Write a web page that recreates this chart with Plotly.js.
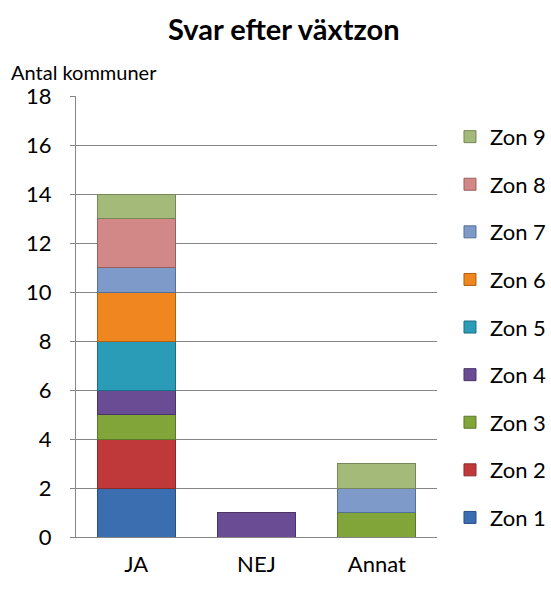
<!DOCTYPE html>
<html>
<head>
<meta charset="utf-8">
<script src="https://cdn.plot.ly/plotly-3.0.1.min.js"></script>
<style>html,body{margin:0;padding:0;background:#fff;}#chart{width:551px;height:590px;}</style>
</head>
<body>
<div id="chart"></div>
<script>
const categories = ['JA', 'NEJ', 'Annat'];
const seriesNames = ['Zon 1', 'Zon 2', 'Zon 3', 'Zon 4', 'Zon 5', 'Zon 6', 'Zon 7', 'Zon 8', 'Zon 9'];
const zon1 = [2, 0, 0];
const zon2 = [2, 0, 0];
const zon3 = [1, 0, 1];
const zon4 = [1, 1, 0];
const zon5 = [2, 0, 0];
const zon6 = [2, 0, 0];
const zon7 = [1, 0, 1];
const zon8 = [2, 0, 0];
const zon9 = [1, 0, 1];
const seriesValues = [zon1, zon2, zon3, zon4, zon5, zon6, zon7, zon8, zon9];
const yTicks = [0, 2, 4, 6, 8, 10, 12, 14, 16, 18];

const colors = ['#3b6db1', '#c0393a', '#82a539', '#6a4c94', '#2b9cb7', '#f0861f', '#7d9ac8', '#d28886', '#a3ba79'];
const edges = ['#2a4f82', '#8c2828', '#5c7828', '#4a3468', '#1c6f83', '#b06010', '#566f96', '#9a6060', '#76885a'];

const font = 'Lato, Calibri, "Open Sans", sans-serif';

const traces = seriesNames.map((name, i) => ({
  type: 'bar',
  name: name,
  x: categories,
  y: seriesValues[i].map(v => v === 0 ? null : v),
  legendgroup: 'g' + i,
  legendrank: 1000 - i,
  marker: {color: colors[i], line: {color: edges[i], width: 1}},
  hoverinfo: 'x+y+name'
}));

const layout = {
  width: 551,
  height: 590,
  margin: {l: 76, r: 114, t: 96, b: 53, autoexpand: false},
  paper_bgcolor: '#ffffff',
  plot_bgcolor: '#ffffff',
  barmode: 'stack',
  bargap: 0.35,
  font: {family: font, size: 22, color: '#000000'},
  title: {
    text: '<b>Svar efter växtzon</b>',
    font: {family: font, size: 29, color: '#000000'},
    x: 0.515, xanchor: 'center', y: 0.95, yanchor: 'middle'
  },
  xaxis: {
    type: 'category',
    showline: true, linecolor: '#868686', linewidth: 1,
    ticks: '', showgrid: false,
    ticklabelstandoff: 8,
    tickfont: {family: font, size: 22, color: '#000000'},
    fixedrange: true
  },
  yaxis: {
    range: [0, 18],
    tickvals: yTicks,
    ticktext: yTicks.map(String),
    showline: true, linecolor: '#868686', linewidth: 1,
    showgrid: true, gridcolor: '#868686', gridwidth: 1,
    ticks: 'outside', ticklen: 5, tickcolor: '#868686',
    ticklabelstandoff: 14,
    tickfont: {family: font, size: 22, color: '#000000'},
    zeroline: false,
    fixedrange: true
  },
  legend: {
    x: 1.036, xanchor: 'left',
    y: 0.955, yanchor: 'top',
    traceorder: 'grouped',
    tracegroupgap: 16,
    font: {family: font, size: 22, color: '#000000'},
    bgcolor: 'rgba(0,0,0,0)'
  },
  annotations: [{
    text: 'Antal kommuner',
    xref: 'paper', yref: 'paper',
    x: -0.185, xanchor: 'left',
    y: 1.055, yanchor: 'middle',
    showarrow: false,
    font: {family: font, size: 20, color: '#000000'}
  }]
};

Plotly.newPlot('chart', traces, layout, {displayModeBar: false, staticPlot: true});
</script>
</body>
</html>
